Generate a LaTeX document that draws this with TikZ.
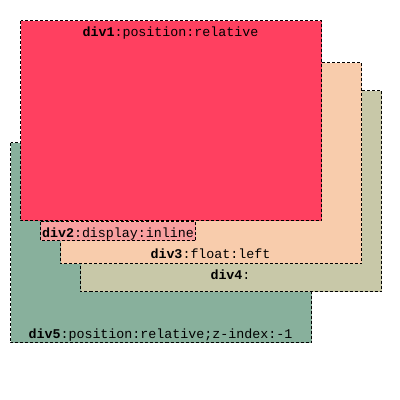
\documentclass[tikz,border=0pt]{standalone}
\usepackage{fontspec}
\setmonofont{Liberation Mono}
\definecolor{cone}{HTML}{FF4060}
\definecolor{ctwo}{HTML}{F8A0A0}
\definecolor{cthree}{HTML}{F8CCAC}
\definecolor{cfour}{HTML}{C8C8A8}
\definecolor{cfive}{HTML}{88B09C}
\tikzset{
  divbox/.style={draw=black, line width=1pt, dash pattern=on 3pt off 2pt},
  lbl/.style={anchor=base, inner sep=0pt, font=\fontsize{13.33}{14}\ttfamily, text=black}
}
\begin{document}
\begin{tikzpicture}[x=1pt,y=-1pt]
\useasboundingbox (0,0) rectangle (400,400);
% div5 (z-index -1)
\path[divbox, fill=cfive] (10.5,142.5) rectangle (311.5,342.5);
\node[lbl] (t5) at (160.5,338) {\textbf{div5}:position:relative;z-index:-1};
% div4
\path[divbox, fill=cfour] (80.5,90.5) rectangle (381.5,291.5);
\node[lbl] (t4) at (230.5,279) {\textbf{div4}:};
% div3
\path[divbox, fill=cthree] (60.5,62.5) rectangle (361.5,263.5);
\node[lbl] (t3) at (210.5,258) {\textbf{div3}:float:left};
% div1
\path[divbox, fill=cone] (20.5,20.5) rectangle (321.5,220.5);
\node[lbl] (t1) at (170.5,36) {\textbf{div1}:position:relative};
% div2
\path[divbox, fill=ctwo] (40.5,221.5) rectangle (195.5,240.5);
\node[lbl] (t2) at (118,237) {\textbf{div2}:display:inline};
\end{tikzpicture}
\end{document}
